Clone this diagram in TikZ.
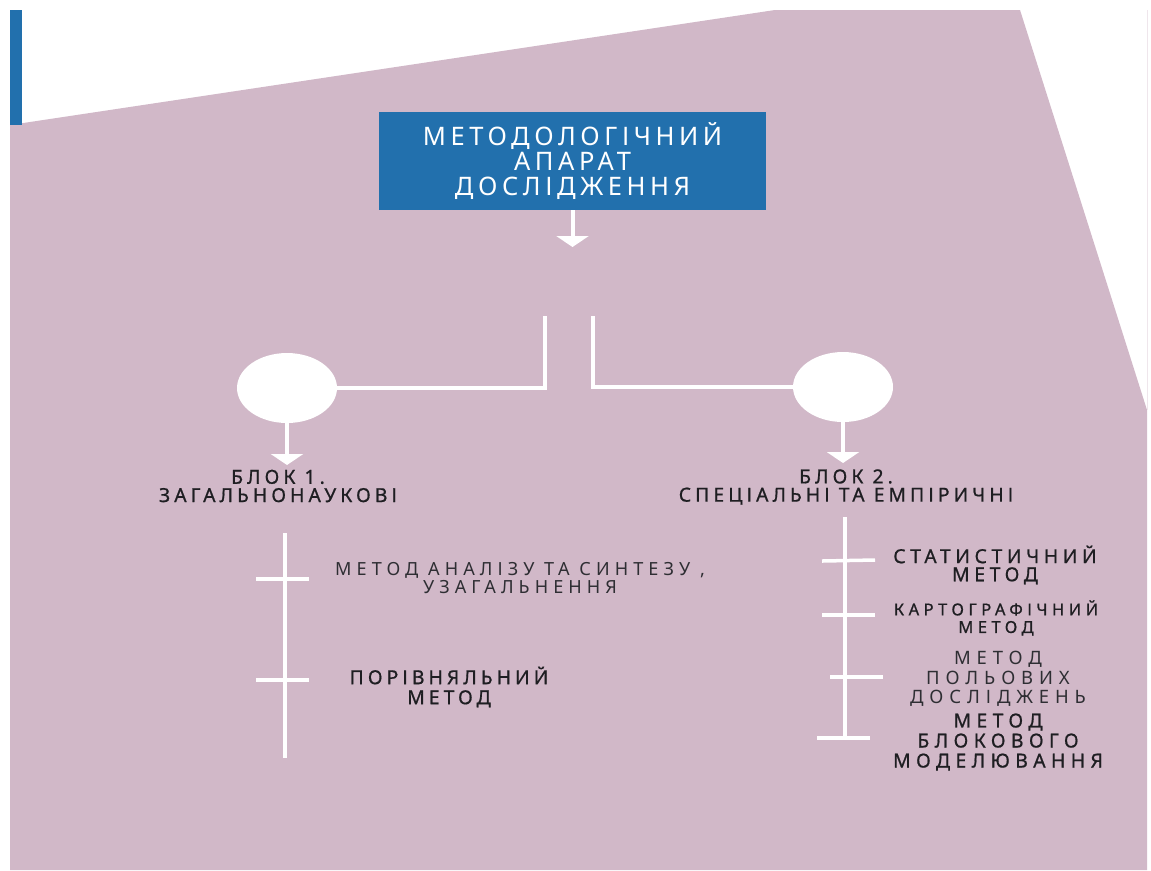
\documentclass[tikz,border=0pt]{standalone}
\usepackage{fontspec}
\usetikzlibrary{arrows.meta,shapes.geometric}
\newfontfamily\nf{Noto Sans}
\newfontfamily\nfm[FakeBold=0.8]{Noto Sans}
\newcommand\tf[3]{\fontsize{#1}{#2}\selectfont\addfontfeatures{LetterSpace=#3}}
\definecolor{pinkbg}{HTML}{D1B8C8}
\definecolor{boxblue}{HTML}{2270AD}
\definecolor{ink}{HTML}{1E1E22}
\definecolor{inkl}{HTML}{2E2E33}
\tikzset{
  wl/.style={draw=white, line width=0.08cm},
  tk/.style={draw=white, line width=0.07cm},
  arr/.style={wl, -{Triangle[width=0.64cm,length=0.22cm]}},
  ell/.style={ellipse, fill=white, minimum width=2cm, minimum height=1.4cm, inner sep=0pt},
  box/.style={rectangle, fill=boxblue, text=white, minimum width=7.74cm, minimum height=1.96cm, inner sep=0pt, align=center},
  lbl/.style={align=center, text=ink, inner sep=0pt},
}
\begin{document}
\begin{tikzpicture}[x=0.02cm,y=-0.02cm]
\useasboundingbox (0,0) rectangle (1151,870);
\fill[white] (0,0) rectangle (1151,870);
% background shapes
\fill[pinkbg] (10,125) -- (775,10) -- (1020,10) -- (1147,410) -- (1147,870) -- (10,870) -- cycle;
\fill[boxblue] (10,10) rectangle (22,125);
\draw[color=pinkbg!35, line width=0.02cm] (1147,10) -- (1147,410);
% title
\node[box, font=\nf\tf{14.5}{14.2}{18}] (title) at (572.5,161) {МЕТОДОЛОГІЧНИЙ\\АПАРАТ\\ДОСЛІДЖЕННЯ};
\coordinate (a0) at (572.5,247);
\draw[arr] (title.south) -- (a0);
% branches
\coordinate (vL) at (545,316);
\coordinate (vR) at (593,316);
\node[ell] (cL) at (287,388) {};
\node[ell] (cR) at (843,387) {};
\draw[wl] (vL) |- (cL);
\draw[wl] (vR) |- (cR);
\coordinate (a1) at (287,465);
\coordinate (a2) at (843,463);
\draw[arr] (cL) -- (a1);
\draw[arr] (cR) -- (a2);
\node[lbl, font=\nfm\tf{11}{10.4}{21}] (b1) at (278,486) {БЛОК 1.\\ЗАГАЛЬНОНАУКОВІ};
\node[lbl, font=\nfm\tf{11}{10.4}{21}] (b2) at (846,487) {БЛОК 2.\\СПЕЦІАЛЬНІ ТА ЕМПІРИЧНІ};
% left spine
\coordinate (sL1) at (285,533);
\coordinate (sL2) at (285,758);
\draw[wl] (sL1) -- (sL2);
\coordinate (tL1a) at (256,579); \coordinate (tL1b) at (309,579);
\coordinate (tL2a) at (256,680); \coordinate (tL2b) at (309,680);
\draw[tk] (tL1a) -- (tL1b);
\draw[tk] (tL2a) -- (tL2b);
\node[lbl, text=inkl, font=\nf\tf{10.3}{10.8}{28}] (m1) at (520,578) {МЕТОД АНАЛІЗУ ТА СИНТЕЗУ ,\\УЗАГАЛЬНЕННЯ};
\node[lbl, font=\nfm\tf{11}{11.4}{21}] (m2) at (449,687) {ПОРІВНЯЛЬНИЙ\\МЕТОД};
% right spine
\coordinate (sR1) at (845,517);
\coordinate (sR2) at (845,740);
\draw[wl] (sR1) -- (sR2);
\coordinate (tR1a) at (822,561); \coordinate (tR1b) at (875,560);
\coordinate (tR2a) at (822,615); \coordinate (tR2b) at (875,615);
\coordinate (tR3a) at (830,677); \coordinate (tR3b) at (883,677);
\coordinate (tR4a) at (817,738); \coordinate (tR4b) at (870,738);
\draw[tk] (tR1a) -- (tR1b);
\draw[tk] (tR2a) -- (tR2b);
\draw[tk] (tR3a) -- (tR3b);
\draw[tk] (tR4a) -- (tR4b);
\node[lbl, font=\nfm\tf{11}{10.3}{24}] (r1) at (995,565) {СТАТИСТИЧНИЙ\\МЕТОД};
\node[lbl, font=\nfm\tf{9.4}{10}{27}] (r2) at (996,618) {КАРТОГРАФІЧНИЙ\\МЕТОД};
\node[lbl, text=inkl, font=\nf\tf{10.5}{11.1}{32}] (r3) at (998,679) {МЕТОД\\ПОЛЬОВИХ\\ДОСЛІДЖЕНЬ};
\node[lbl, font=\nfm\tf{11}{11.4}{28}] (r4) at (998,742) {МЕТОД\\БЛОКОВОГО\\МОДЕЛЮВАННЯ};
\end{tikzpicture}
\end{document}
